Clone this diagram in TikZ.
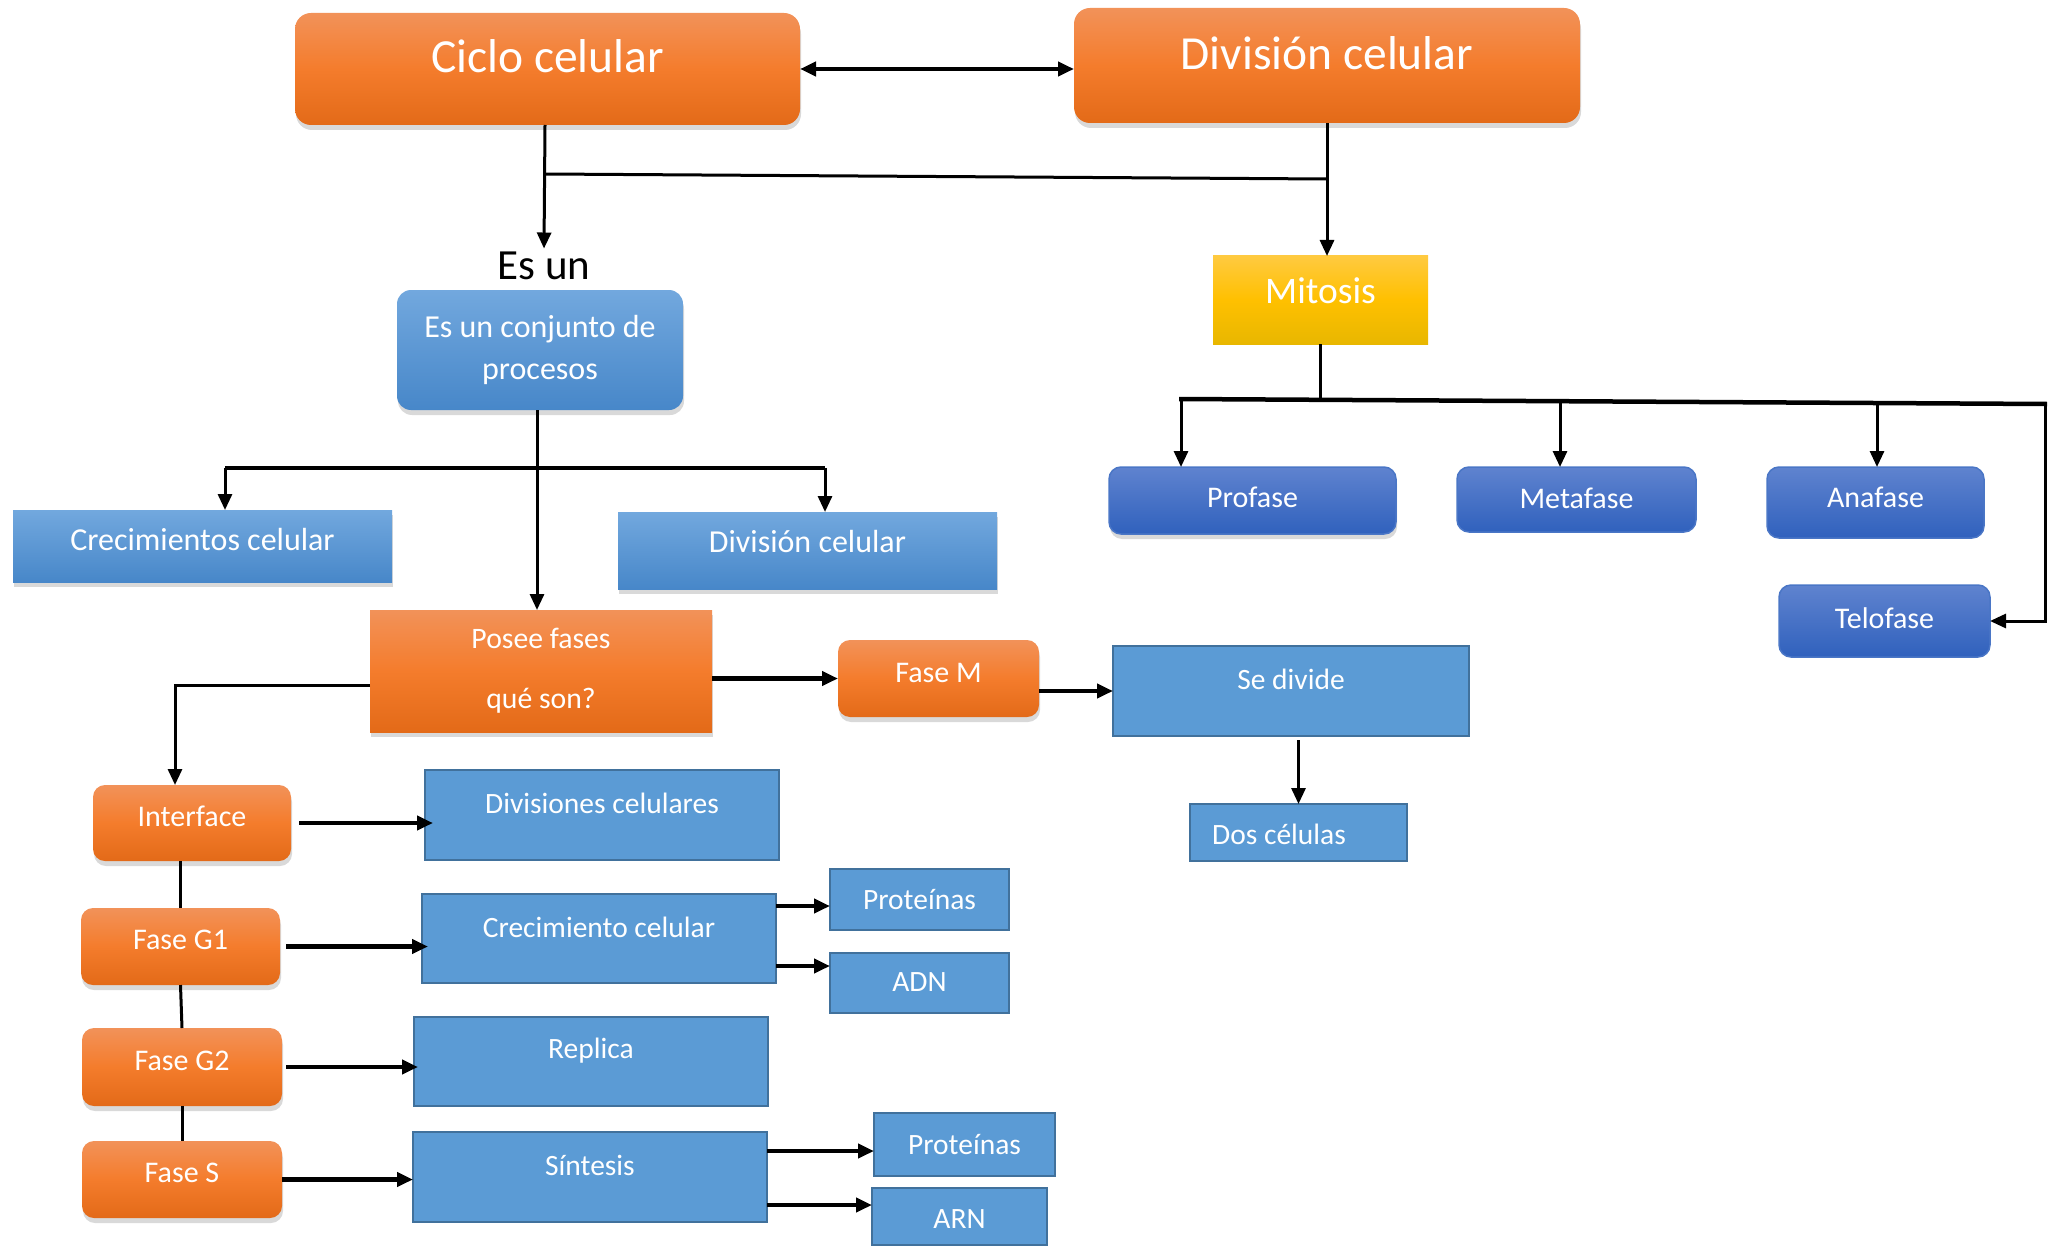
\documentclass[tikz,border=0pt]{standalone}
\usepackage{fontspec}
\setmainfont{Carlito}
\usetikzlibrary{arrows.meta,shadows}

\definecolor{orangetop}{HTML}{F29259}
\definecolor{orangemid}{HTML}{F47C2C}
\definecolor{orangebot}{HTML}{E36A18}
\definecolor{bluetop}{HTML}{72A8DE}
\definecolor{bluebot}{HTML}{4787C9}
\definecolor{flatblue}{HTML}{5B9BD5}
\definecolor{flatline}{HTML}{41719C}
\definecolor{darktop}{HTML}{5F83CF}
\definecolor{darkbot}{HTML}{3061BD}
\definecolor{darkline}{HTML}{4A76C6}
\definecolor{yellowtop}{HTML}{FFCA40}
\definecolor{yellowmid}{HTML}{FFC000}
\definecolor{yellowbot}{HTML}{E8B700}

\tikzset{
  box/.style={inner sep=0pt, outer sep=0pt, text=white, font=\fontsize{29.5}{35}\selectfont},
  oneline/.style={text height=#1, text depth=0pt},
  toptext/.style={text height=0pt, text depth=#1},
  boxshadow/.style={drop shadow={shadow xshift=1pt, shadow yshift=-5pt, opacity=0.3}},
  orangebox/.style={box, top color=orangetop, bottom color=orangebot, middle color=orangemid, boxshadow},
  phase/.style={orangebox, rounded corners=12pt, font=\fontsize{30}{34}\selectfont, oneline=6pt},
  bluebox/.style={box, top color=bluetop, bottom color=bluebot, boxshadow, font=\fontsize{32}{36}\selectfont},
  darkbox/.style={box, top color=darktop, bottom color=darkbot, draw=darkline, line width=1.5pt,
    rounded corners=12pt, font=\fontsize{30}{34}\selectfont},
  flatbox/.style={box, fill=flatblue, draw=flatline, line width=2pt},
  link/.style={line width=3pt},
  thicklink/.style={line width=4.5pt}
}

\begin{document}
\begin{tikzpicture}[x=1pt, y=-1pt, >={Triangle[length=16pt,width=14pt]}]

  \useasboundingbox (0,0) rectangle (2049,1249);

  % top row
  \node[orangebox, rounded corners=16pt, minimum width=505pt, minimum height=112pt,
    font=\fontsize{47.5}{52}\selectfont, oneline=7.9pt] (ciclo) at (547.5,69) {Ciclo celular};
  \node[orangebox, rounded corners=16pt, minimum width=506pt, minimum height=115pt,
    font=\fontsize{47.5}{52}\selectfont, oneline=7.4pt] (divtop) at (1327,65.5) {División celular};
  \node[font=\fontsize{43}{47}\selectfont] (esun) at (544,266) {Es un};

  \draw[<->, thicklink] (ciclo.east) -- (ciclo.east -| divtop.west);
  \coordinate (j1) at (545,174);
  \coordinate (j2) at (1327,179);
  \draw[->, link] (ciclo.south -| j1) -- (esun.north);
  \draw[link] (j1) -- (j2);

  % left branch
  \node[bluebox, rounded corners=14pt, minimum width=286pt, minimum height=120pt,
    align=center, font=\fontsize{32}{42}\selectfont] (conjunto) at (540,350) {Es un conjunto de\\procesos};
  \node[bluebox, minimum width=379pt, minimum height=72pt, oneline=8.9pt] (crec) at (202.5,546) {Crecimientos celular};
  \node[bluebox, minimum width=379pt, minimum height=77pt, oneline=3pt] (divmid) at (807.5,550.5) {División celular};
  \node[orangebox, minimum width=342pt, minimum height=122pt, align=center,
    font=\fontsize{29.7}{60}\selectfont] (posee) at (541,671) {Posee fases\\qué son?};

  \coordinate (b1) at (225,468);
  \coordinate (b2) at (825,468);
  \draw[link] (conjunto.south -| 537,0) -- (537,468);
  \draw[thicklink] (b1) -- (b2);
  \draw[->, link] (b1) -- (b1 |- crec.north);
  \draw[->, link] (b2) -- (b2 |- divmid.north);
  \draw[->, link] (537,468) -- (posee.north -| 537,0);

  \node[phase, minimum width=201pt, minimum height=77pt, oneline=8.1pt] (faseM) at (938.5,678.5) {Fase M};
  \node[flatbox, minimum width=356pt, minimum height=90pt, toptext=2.5pt] (sedivide) at (1291,691) {Se divide};
  \node[flatbox, minimum width=217pt, minimum height=57pt, oneline=23pt] (dos) at (1298.5,832.5) {Dos células\hspace*{39pt}};

  \draw[->, thicklink] (posee.east |- faseM.west) -- (faseM.west);
  \draw[->, thicklink] (faseM.east |- sedivide.west) -- (sedivide.west);
  \draw[->, link] ([yshift=-4pt]dos.north |- sedivide.south) -- (dos.north);

  % phases
  \node[phase, minimum width=198pt, minimum height=76pt] (interf) at (192,823) {Interface};
  \node[phase, minimum width=199pt, minimum height=77pt] (g1) at (180.5,946.5) {Fase G1};
  \node[phase, minimum width=200pt, minimum height=78pt] (g2) at (182,1067) {Fase G2};
  \node[phase, minimum width=200pt, minimum height=77pt] (faseS) at (182,1179.5) {Fase S};

  \node[flatbox, minimum width=354pt, minimum height=90pt, toptext=2.5pt] (divs) at (602,815) {Divisiones celulares};
  \node[flatbox, minimum width=354pt, minimum height=89pt, toptext=1.6pt] (crecim) at (599,938.5) {Crecimiento celular};
  \node[flatbox, minimum width=354pt, minimum height=89pt, toptext=5.5pt] (replica) at (591,1061.5) {Replica};
  \node[flatbox, minimum width=354pt, minimum height=90pt, toptext=2.5pt] (sintesis) at (590,1177) {Síntesis};

  \node[flatbox, minimum width=179pt, minimum height=61pt, oneline=19.9pt] (prot1) at (919.5,899.5) {Proteínas};
  \node[flatbox, minimum width=179pt, minimum height=60pt, oneline=16.4pt] (adn) at (919.5,983) {ADN};
  \node[flatbox, minimum width=181pt, minimum height=63pt, oneline=19pt] (prot2) at (964.5,1144.5) {Proteínas};
  \node[flatbox, minimum width=175pt, minimum height=57pt, oneline=23pt] (arn) at (959.5,1216.5) {ARN};

  \coordinate (k) at (175,685);
  \draw[->, link] (posee.west |- k) -- (k) -- (k |- interf.north);
  \draw[link] (g1.north |- interf.south) -- (g1.north);
  \draw[link] (g1.south) -- (g2.north);
  \draw[link] (g2.south) -- (faseS.north);

  \draw[->, thicklink] ([xshift=8pt]interf.east) -- ([xshift=8pt]interf.east -| divs.west);
  \draw[->, thicklink] ([xshift=6pt]g1.east) -- ([xshift=6pt]g1.east -| crecim.west);
  \draw[->, thicklink] ([xshift=4pt]g2.east) -- ([xshift=4pt]g2.east -| replica.west);
  \draw[->, thicklink] (faseS.east) -- (faseS.east -| sintesis.west);

  \draw[->, thicklink] ([yshift=-12pt]crecim.north east) -- ([yshift=-12pt]crecim.north east -| prot1.west);
  \draw[->, thicklink] ([yshift=17pt]crecim.south east) -- ([yshift=17pt]crecim.south east -| adn.west);
  \draw[->, thicklink] ([yshift=-19pt]sintesis.north east) -- ([yshift=-19pt]sintesis.north east -| prot2.west);
  \draw[->, thicklink] ([yshift=17pt]sintesis.south east) -- ([yshift=17pt]sintesis.south east -| arn.west);

  % mitosis
  \node[box, top color=yellowtop, bottom color=yellowbot, middle color=yellowmid,
    minimum width=215pt, minimum height=88pt, font=\fontsize{37.5}{42}\selectfont,
    oneline=6.2pt] (mitosis) at (1320.5,300) {Mitosis};
  \draw[->, link] (divtop.south) -- (divtop.south |- mitosis.north);

  \node[darkbox, boxshadow, minimum width=287pt, minimum height=67pt, oneline=14.2pt] (profase) at (1252.5,500.5) {Profase};
  \node[darkbox, minimum width=239pt, minimum height=65pt, oneline=17pt] (metafase) at (1576.5,499.5) {Metafase};
  \node[darkbox, minimum width=217pt, minimum height=71pt, oneline=9.9pt] (anafase) at (1875.5,502.5) {Anafase};
  \node[darkbox, minimum width=211pt, minimum height=72pt, oneline=14.5pt] (telofase) at (1884.5,621) {Telofase};

  \coordinate (mL) at (1181,399);
  \coordinate (mR) at (2045,404);
  \draw[link] (mitosis.south) -- (mitosis.south |- mL);
  \draw[thicklink] ([xshift=-2pt]mL) -- ([xshift=2pt]mR);
  \draw[->, link] (mL) -- (mL |- profase.north);
  \draw[->, link] (1560,400) -- (metafase.north -| 1560,0);
  \draw[->, link] (1877,402) -- (anafase.north -| 1877,0);
  \draw[->, link] (mR) -- (mR |- telofase.east) -- (telofase.east);

\end{tikzpicture}
\end{document}
